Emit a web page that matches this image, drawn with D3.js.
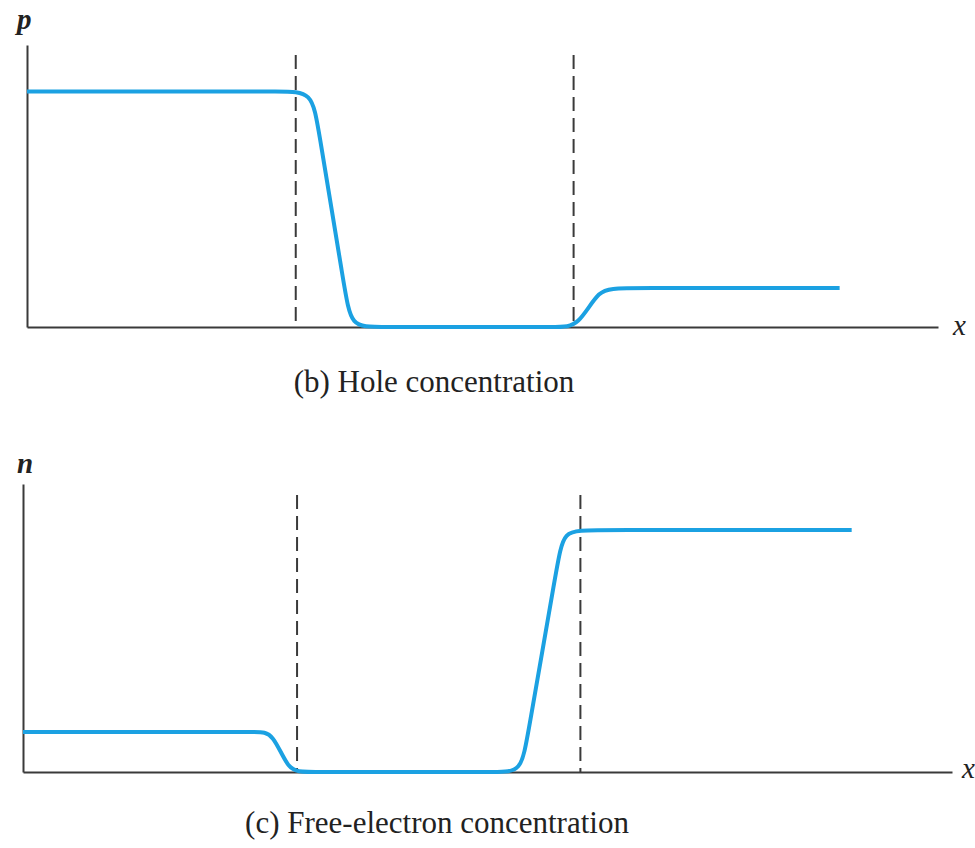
<!DOCTYPE html>
<html>
<head>
<meta charset="utf-8">
<script src="https://cdn.jsdelivr.net/npm/d3@7"></script>
<style>
  body { margin: 0; background: #fff; }
  .domain { stroke: #3a3a3a; stroke-width: 2px; }
</style>
</head>
<body>
<svg id="chart" width="975" height="848"></svg>
<script>
// position along the device, 0..100, and depletion-region edges
const xDomain = [0, 100]
const depletionEdges = [29.5, 60]

// (b) hole concentration, relative units
const holeX = [0, 20, 28.0, 31.3, 31.95, 34.9, 35.56, 38.4, 50, 58.3, 60.5, 62.8, 65, 89.2]
const holeP = [0.835, 0.835, 0.835, 0.835, 0.71, 0.13, 0, 0, 0, 0, 0, 0.138, 0.138, 0.138]

// (c) free-electron concentration, relative units
const elecX = [0, 20, 25.2, 26.9, 28.6, 30.3, 45, 51.0, 53.64, 54.29, 57.52, 58.17, 60.9, 89.2]
const elecN = [0.139, 0.139, 0.139, 0.139, 0, 0, 0, 0, 0, 0.12, 0.72, 0.84, 0.84, 0.84]

const captions = ['(b) Hole concentration', '(c) Free-electron concentration']
const yLabels = ['p', 'n']

const panels = [
  { xs: holeX, ys: holeP, left: 27, right: 938, top: 45, bottom: 327, dashTop: 55,
    yLab: [17, 29], xLab: [953, 335], cap: [434, 392] },
  { xs: elecX, ys: elecN, left: 23, right: 952, top: 484, bottom: 772, dashTop: 495,
    yLab: [17, 473], xLab: [962, 778], cap: [437, 833] },
]

const svg = d3.select('#chart')

panels.forEach((c, i) => {
  const x = d3.scaleLinear(xDomain, [c.left, c.right])
  const y = d3.scaleLinear([0, 1], [c.bottom, c.top])
  const g = svg.append('g')

  // dashed depletion-region edges
  g.selectAll('line.edge')
    .data(depletionEdges)
    .join('line')
    .classed('edge', true)
    .attr('x1', (d) => x(d))
    .attr('x2', (d) => x(d))
    .attr('y1', c.dashTop)
    .attr('y2', c.bottom)
    .attr('stroke', '#3a3a3a')
    .attr('stroke-width', 2)
    .attr('stroke-dasharray', '14,7')

  // axes, no ticks
  g.append('g')
    .attr('transform', `translate(0,${ c.bottom })`)
    .call(d3.axisBottom(x).tickValues([]).tickSizeOuter(0))
  g.append('g')
    .attr('transform', `translate(${ c.left },0)`)
    .call(d3.axisLeft(y).tickValues([]).tickSizeOuter(0))

  // concentration curve
  const line = d3.line()
    .x((d) => x(d[0]))
    .y((d) => y(d[1]))
    .curve(d3.curveBasis)

  g.append('path')
    .datum(d3.zip(c.xs, c.ys))
    .attr('d', line)
    .attr('fill', 'none')
    .attr('stroke', '#1ba1e2')
    .attr('stroke-width', 4)

  // labels
  g.append('text')
    .attr('x', c.yLab[0])
    .attr('y', c.yLab[1])
    .attr('font-family', 'Liberation Serif, serif')
    .attr('font-style', 'italic')
    .attr('font-weight', 'bold')
    .attr('font-size', 29)
    .attr('fill', '#222')
    .text(yLabels[i])

  g.append('text')
    .attr('x', c.xLab[0])
    .attr('y', c.xLab[1])
    .attr('font-family', 'Liberation Serif, serif')
    .attr('font-style', 'italic')
    .attr('font-size', 29)
    .attr('fill', '#222')
    .text('x')

  g.append('text')
    .attr('x', c.cap[0])
    .attr('y', c.cap[1])
    .attr('text-anchor', 'middle')
    .attr('font-family', 'Liberation Serif, serif')
    .attr('font-size', 31)
    .attr('fill', '#222')
    .text(captions[i])
})
</script>
</body>
</html>
